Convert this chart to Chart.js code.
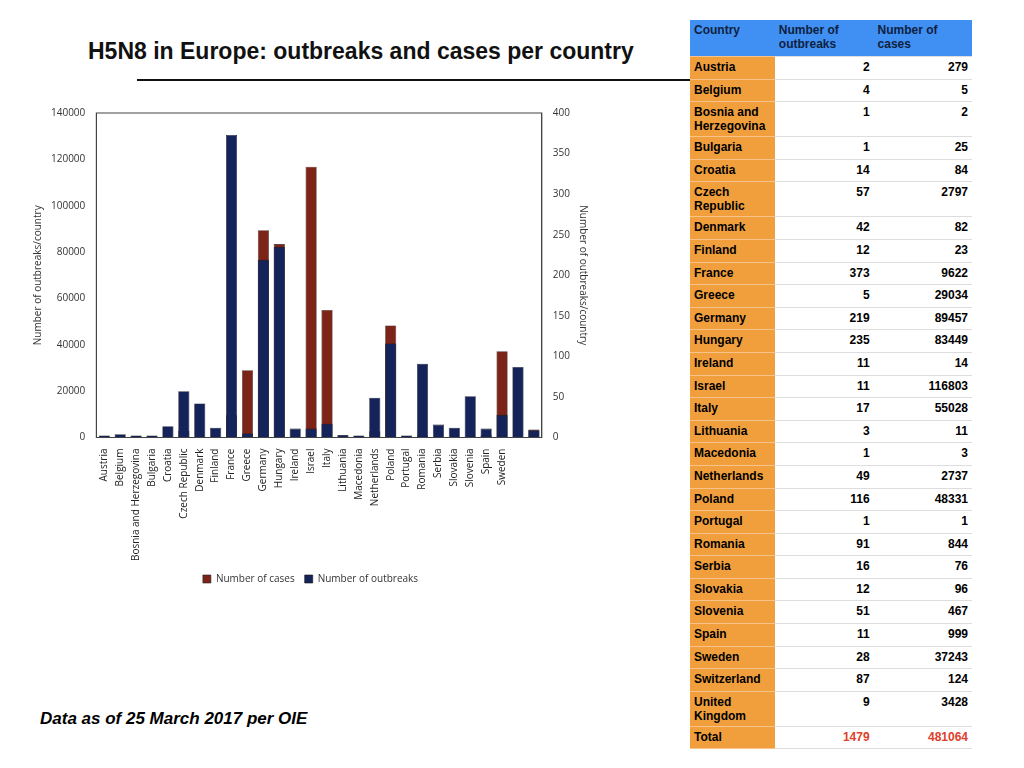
<!DOCTYPE html>
<html><head><meta charset="utf-8">
<script src="https://cdn.jsdelivr.net/npm/chart.js@4"></script>
<style>
body{margin:0;width:1024px;height:768px;background:#fff;font-family:"Liberation Sans",Arial,sans-serif;position:relative;overflow:hidden}
#title{position:absolute;left:88px;top:38px;font-size:23px;font-weight:bold;color:#111}
#rule{position:absolute;left:137px;top:79px;width:553px;height:2px;background:#111}
#note{position:absolute;left:40px;top:709px;font-size:17px;font-weight:bold;font-style:italic}
#chartBox{position:absolute;left:28px;top:104px;width:565px;height:490px}
table{position:absolute;left:690px;top:20px;width:282px;border-collapse:collapse;font-size:12px;font-weight:bold}
td{border-bottom:1px solid #ddd;padding:3px 4px;vertical-align:top;height:15.6px;line-height:14px}
td.c{background:#f19f3c;width:77px;border-bottom:1px solid #f6c48a}
td.n{text-align:right;width:92px}
tr.h td{background:#3f90f2;height:30px;color:#102040}
tr.t td.n{color:#e0402a}
</style></head><body>
<div id="title">H5N8 in Europe: outbreaks and cases per country</div>
<div id="rule"></div>
<div id="chartBox"><canvas id="c"></canvas></div>
<div id="note">Data as of 25 March 2017 per OIE</div>
<table id="tbl"></table>
<script>
const countries = ["Austria","Belgium","Bosnia and Herzegovina","Bulgaria","Croatia","Czech Republic","Denmark","Finland","France","Greece","Germany","Hungary","Ireland","Israel","Italy","Lithuania","Macedonia","Netherlands","Poland","Portugal","Romania","Serbia","Slovakia","Slovenia","Spain","Sweden","",""];
const outbreaks = [2,4,1,1,14,57,42,12,373,5,219,235,11,11,17,3,1,49,116,1,91,16,12,51,11,28,87,9];
const cases = [279,5,2,25,84,2797,82,23,9622,29034,89457,83449,14,116803,55028,11,3,2737,48331,1,844,76,96,467,999,37243,124,3428];
const tableNames = ["Austria","Belgium","Bosnia and<br>Herzegovina","Bulgaria","Croatia","Czech<br>Republic","Denmark","Finland","France","Greece","Germany","Hungary","Ireland","Israel","Italy","Lithuania","Macedonia","Netherlands","Poland","Portugal","Romania","Serbia","Slovakia","Slovenia","Spain","Sweden","Switzerland","United<br>Kingdom"];
const totalOutbreaks = 1479, totalCases = 481064;

let rows = '<tr class="h"><td class="c" style="background:#3f90f2">Country</td><td>Number of<br>outbreaks</td><td>Number of<br>cases</td></tr>';
tableNames.forEach((n, i) => {
    rows += `<tr><td class="c">${n}</td><td class="n">${outbreaks[i]}</td><td class="n">${cases[i]}</td></tr>`;
});
rows += `<tr class="t"><td class="c">Total</td><td class="n">${totalOutbreaks}</td><td class="n">${totalCases}</td></tr>`;
document.getElementById("tbl").innerHTML = rows;

// box round the plot area
const frame = {
    id: 'frame',
    afterDraw(chart) {
        const a = chart.chartArea, ctx = chart.ctx;
        ctx.save();
        ctx.strokeStyle = '#444';
        ctx.lineWidth = 1;
        ctx.strokeRect(a.left, a.top, a.right - a.left, a.bottom - a.top);
        ctx.restore();
    }
};

const tickFont = { family: "Open Sans", size: 10 };
new Chart(document.getElementById("c"), {
    type: 'bar',
    data: { labels: countries, datasets: [
        { label: "Number of cases", data: cases, backgroundColor: '#7b2417', borderColor: '#222', borderWidth: 0.6, yAxisID: 'y', order: 2, grouped: false, barPercentage: 0.7, categoryPercentage: 1 },
        { label: "Number of outbreaks", data: outbreaks, backgroundColor: '#14235a', borderColor: '#111', borderWidth: 0.6, yAxisID: 'y1', order: 1, grouped: false, barPercentage: 0.7, categoryPercentage: 1, minBarLength: 2 }
    ] },
    plugins: [frame],
    options: {
        responsive: true, maintainAspectRatio: false, animation: false,
        plugins: { legend: { position: 'bottom', reverse: true, labels: { boxWidth: 8, boxHeight: 8, font: tickFont, color: '#333' } } },
        scales: {
            x: { grid: { display: false }, border: { color: '#444' }, ticks: { font: tickFont, color: '#222', maxRotation: 90, minRotation: 90, autoSkip: false } },
            y: { min: 0, max: 140000, ticks: { stepSize: 20000, font: tickFont, color: '#333', callback: v => v }, grid: { display: false }, border: { color: '#444' },
                 title: { display: true, text: 'Number of outbreaks/country', font: tickFont, color: '#333' } },
            y1: { position: 'right', min: 0, max: 400, ticks: { stepSize: 50, font: tickFont, color: '#333' }, grid: { display: false }, border: { color: '#444' },
                 title: { display: true, text: 'Number of outbreaks/country', font: tickFont, color: '#333' } }
        }
    }
});
</script>
</body></html>
